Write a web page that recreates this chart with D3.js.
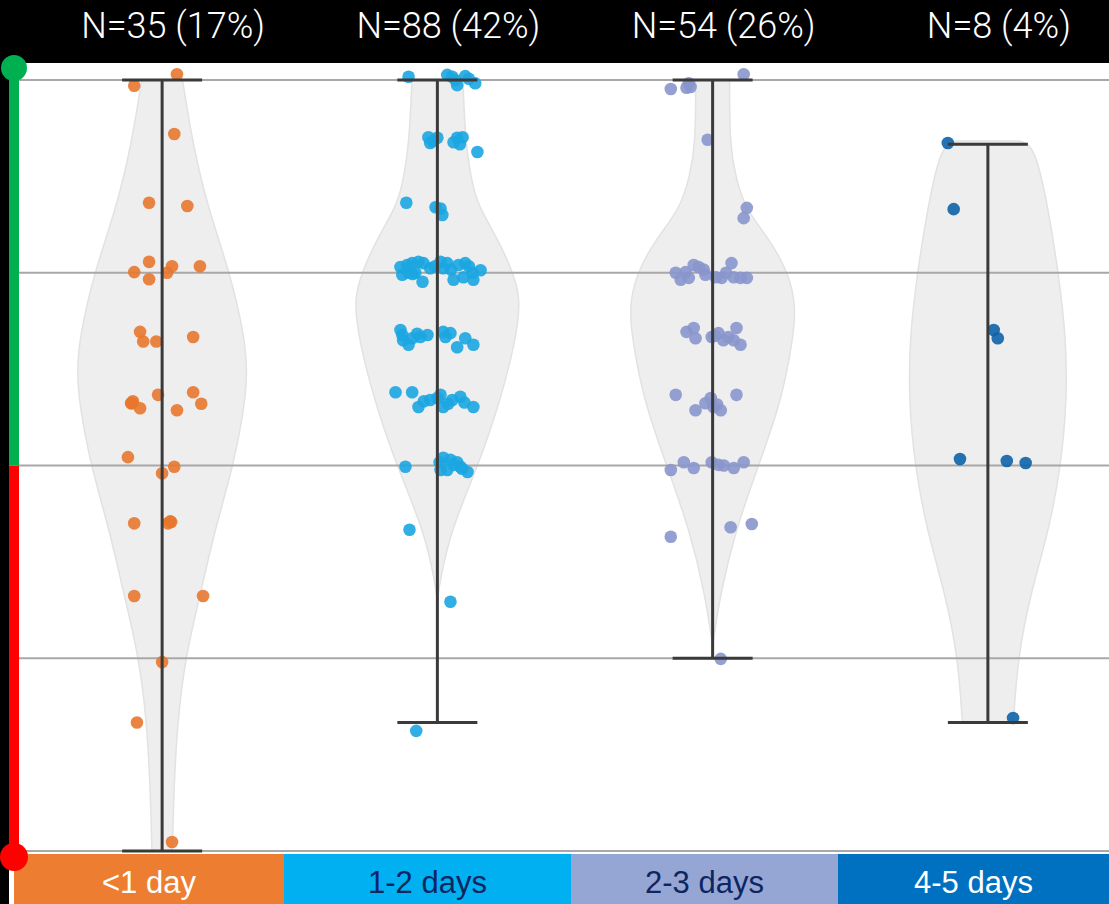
<!DOCTYPE html>
<html>
<head>
<meta charset="utf-8">
<script src="https://cdn.jsdelivr.net/npm/d3@7"></script>
<style>
  html, body { margin: 0; padding: 0; background: #fff; }
  svg { display: block; }
</style>
</head>
<body>
<div id="chart"></div>
<script>
// categories and header labels
const categories = ["<1 day", "1-2 days", "2-3 days", "4-5 days"];
const headerLabels = ["N=35 (17%)", "N=88 (42%)", "N=54 (26%)", "N=8 (4%)"];
const gridValues = [0, 3, 6, 9, 12];

// whisker range per category [min, max]
const whiskers = [[0, 12], [2, 12], [3, 12], [2, 11]];

// violin outline: [value, relative half width]
const violin1 = [[12, 0.24], [11, 0.36], [10, 0.54], [9, 0.8], [8, 0.97], [7.5, 1], [7, 0.98], [6, 0.84], [5, 0.62], [4, 0.45], [3, 0.27], [2, 0.18], [1, 0.14], [0, 0.12]];
const violin2 = [[12, 0.3], [11, 0.33], [10.3, 0.42], [10, 0.5], [9.5, 0.72], [9, 0.89], [8.6, 0.98], [8, 0.93], [7, 0.74], [6, 0.48], [5, 0.16], [4.2, 0.03], [3.9, 0]];
const violin3 = [[12, 0.2], [11, 0.2], [10.5, 0.27], [10, 0.38], [9.5, 0.68], [9, 0.89], [8.5, 0.98], [8, 0.95], [7, 0.81], [6, 0.54], [5, 0.27], [4, 0.09], [3.2, 0]];
const violin4 = [[11.05, 0.36], [11, 0.55], [10, 0.71], [9, 0.83], [8, 0.92], [7, 0.93], [6, 0.86], [5, 0.72], [4, 0.5], [3, 0.35], [2, 0.3]];

// points: [horizontal jitter (-1..1), value]
const points1 = [[0.33, 12.09], [-0.62, 11.91], [0.27, 11.16], [-0.29, 10.09], [0.56, 10.04], [-0.29, 9.17], [-0.62, 9.01], [-0.29, 8.9], [0.22, 9.1], [0.11, 9.0], [0.84, 9.1], [-0.49, 8.08], [-0.42, 7.93], [-0.13, 7.93], [0.69, 8.0], [-0.69, 6.97], [-0.67, 6.97], [-0.49, 6.89], [-0.09, 7.1], [0.69, 7.14], [0.87, 6.96], [0.33, 6.86], [-0.76, 6.13], [0.27, 5.98], [0, 5.88], [-0.62, 5.1], [0.2, 5.12], [0.13, 5.1], [0.18, 5.13], [-0.62, 3.97], [0.91, 3.97], [0, 2.94], [-0.56, 2.0], [0.22, 0.14], [-0.65, 7.0]];
const points2 = [[-0.64, 12.05], [0.22, 12.08], [0.33, 12.05], [0.44, 11.92], [0.62, 12.06], [0.84, 11.95], [0.4, 12.0], [0.7, 12.02],
  [-0.2, 11.11], [-0.16, 11.02], [0.44, 11.1], [0.56, 11.11], [0.36, 11.03], [0, 11.1], [0.89, 10.88], [-0.1, 11.05], [0.5, 11.0],
  [-0.69, 10.09], [-0.04, 10.02], [0.11, 9.9], [0.07, 10.0],
  [-0.82, 9.09], [-0.67, 9.12], [-0.56, 9.15], [-0.42, 9.17], [-0.31, 9.15], [-0.78, 8.97], [-0.33, 8.86], [0.07, 9.17], [0.13, 9.07], [0.22, 9.15], [0.36, 8.89], [0.47, 9.12], [0.62, 9.15], [0.78, 9.0], [0.8, 8.89], [0.96, 9.04], [0.58, 8.93], [-0.16, 9.07], [-0.64, 9.0], [-0.49, 9.0], [-0.05, 9.1], [0.3, 9.05], [-0.55, 8.98], [0.7, 9.1],
  [-0.82, 8.11], [-0.76, 7.95], [-0.56, 7.98], [-0.38, 8.0], [-0.22, 8.03], [0.13, 8.08], [0.29, 8.06], [0.44, 7.84], [0.62, 7.98], [0.8, 7.88], [-0.78, 8.03], [-0.64, 7.88], [0.18, 8.0], [-0.45, 8.05],
  [-0.93, 7.14], [-0.56, 7.14], [-0.42, 6.91], [-0.16, 7.02], [0.07, 7.1], [0.13, 6.91], [0.33, 7.02], [0.51, 7.07], [0.8, 6.91], [0, 7.05], [0.24, 6.96], [-0.3, 7.0], [0.6, 6.98],
  [-0.71, 5.98], [0.13, 6.12], [0.29, 6.09], [0.44, 6.05], [0.22, 5.93], [0.07, 5.93], [0.67, 5.9], [0.51, 5.98], [0.36, 6.01], [0.05, 6.05], [0.55, 5.95],
  [-0.62, 5.0], [0.29, 3.88], [-0.47, 1.87]];
const points3 = [[0.69, 12.09], [-0.93, 11.86], [-0.58, 11.88], [-0.53, 11.95], [-0.49, 11.89], [-0.11, 11.07], [0.76, 10.01], [0.69, 9.85],
  [-0.82, 9.0], [-0.71, 8.89], [-0.53, 8.92], [-0.42, 9.12], [-0.31, 9.09], [-0.16, 8.97], [0.07, 8.93], [0.2, 8.92], [0.42, 9.15], [0.47, 8.93], [0.62, 8.92], [0.76, 8.92], [-0.6, 9.01], [0.3, 9.0], [-0.2, 9.05],
  [-0.58, 8.08], [-0.42, 8.14], [-0.38, 7.98], [-0.02, 8.0], [0.13, 8.06], [0.24, 7.95], [0.53, 8.14], [0.62, 7.88], [0.47, 7.95], [0.05, 8.02], [0.35, 8.0],
  [-0.82, 7.1], [-0.38, 6.86], [-0.16, 6.97], [-0.04, 7.05], [0.18, 6.86], [0.53, 7.1], [0.02, 6.91], [0.1, 6.95],
  [-0.93, 5.93], [-0.64, 6.05], [-0.42, 5.96], [-0.02, 6.05], [0.13, 6.01], [0.47, 5.96], [0.69, 6.05], [0.25, 6.0],
  [-0.93, 4.89], [0.4, 5.04], [0.87, 5.09], [0.18, 2.99]];
const points4 = [[-0.89, 11.02], [-0.76, 9.99], [0.13, 8.11], [0.22, 7.98], [-0.62, 6.1], [0.42, 6.07], [0.84, 6.04], [0.56, 2.07]];

const violins = [violin1, violin2, violin3, violin4];
const pointSets = [points1, points2, points3, points4];
const fillColors = ["#ED7D31", "#00B0F0", "#95A6D5", "#0070C0"];
const dotColors = ["#E8772E", "#1BA6E1", "#8896CC", "#0E63A9"];
const labelColors = ["#ffffff", "#0d2560", "#0d2560", "#ffffff"];

// layout
const width = 1109, height = 904;
const headerH = 63;
const labelTop = 854;
const labelEdges = [14, 284, 571, 838, 1109];
const violinMax = 85;   // px of half width at relative 1
const jitterMax = 45;   // px of jitter at 1

const svg = d3.select("#chart").append("svg")
  .attr("width", width)
  .attr("height", height);

const x = d3.scaleBand().domain(categories).range([24.5, 1125.5]);
const cx = d => x(d) + x.bandwidth() / 2;
const y = d3.scaleLinear().domain([0, 12]).range([851, 80]);
const w = d3.scaleLinear().domain([0, 1]).range([0, violinMax]);
const j = d3.scaleLinear().domain([-1, 1]).range([-jitterMax, jitterMax]);

// violins
categories.forEach((c, i) => {
  const area = d3.area()
    .y(d => y(d[0]))
    .x0(d => cx(c) - w(d[1]))
    .x1(d => cx(c) + w(d[1]))
    .curve(d3.curveBasis);
  svg.append("path")
    .datum(violins[i])
    .attr("d", area)
    .attr("fill", "#eeeeee")
    .attr("stroke", "#e2e2e2")
    .attr("stroke-width", 1.5);
});

// gridlines
svg.append("g")
  .selectAll("line")
  .data(gridValues)
  .join("line")
  .attr("x1", 19).attr("x2", width)
  .attr("y1", d => y(d)).attr("y2", d => y(d))
  .attr("stroke", "#a8a8a8")
  .attr("stroke-width", 2);

// points
categories.forEach((c, i) => {
  svg.append("g")
    .selectAll("circle")
    .data(pointSets[i])
    .join("circle")
    .attr("cx", d => cx(c) + j(d[0]))
    .attr("cy", d => y(d[1]))
    .attr("r", 6.3)
    .attr("fill", dotColors[i])
    .attr("fill-opacity", 0.9);
});

// whiskers
categories.forEach((c, i) => {
  const [lo, hi] = whiskers[i];
  const g = svg.append("g").attr("stroke", "#3a3a3a").attr("stroke-width", 3);
  g.append("line").attr("x1", cx(c)).attr("x2", cx(c)).attr("y1", y(lo)).attr("y2", y(hi));
  [lo, hi].forEach(v => {
    g.append("line").attr("x1", cx(c) - 40).attr("x2", cx(c) + 40).attr("y1", y(v)).attr("y2", y(v));
  });
});

// header
svg.append("rect").attr("x", 0).attr("y", 0).attr("width", width).attr("height", headerH).attr("fill", "#000");
svg.append("g")
  .selectAll("text")
  .data(headerLabels)
  .join("text")
  .attr("x", (d, i) => cx(categories[i]) + 11)
  .attr("y", 38)
  .attr("text-anchor", "middle")
  .attr("font-family", "Roboto, 'Liberation Sans', sans-serif")
  .attr("font-weight", 300)
  .attr("font-size", 36)
  .attr("fill", "#fff")
  .text(d => d);

// left black strip and green/red indicator
svg.append("rect").attr("x", 0).attr("y", 0).attr("width", 9).attr("height", height).attr("fill", "#000");
svg.append("rect").attr("x", 9).attr("y", 68).attr("width", 10).attr("height", y(6) - 68).attr("fill", "#00B050");
svg.append("rect").attr("x", 9).attr("y", y(6)).attr("width", 10).attr("height", 857 - y(6)).attr("fill", "#FF0000");

// category label bar
const lab = svg.append("g");
categories.forEach((c, i) => {
  lab.append("rect")
    .attr("x", labelEdges[i]).attr("y", labelTop)
    .attr("width", labelEdges[i + 1] - labelEdges[i]).attr("height", height - labelTop)
    .attr("fill", fillColors[i]);
  lab.append("text")
    .attr("x", (labelEdges[i] + labelEdges[i + 1]) / 2)
    .attr("y", 893)
    .attr("text-anchor", "middle")
    .attr("font-family", "'Liberation Sans Narrow', 'Liberation Sans', Arial, sans-serif")
    .attr("font-size", 31)
    .attr("fill", labelColors[i])
    .text(c);
});

svg.append("circle").attr("cx", 14).attr("cy", 68).attr("r", 13).attr("fill", "#00B050");
svg.append("circle").attr("cx", 14).attr("cy", 857).attr("r", 14).attr("fill", "#FF0000");
</script>
</body>
</html>
